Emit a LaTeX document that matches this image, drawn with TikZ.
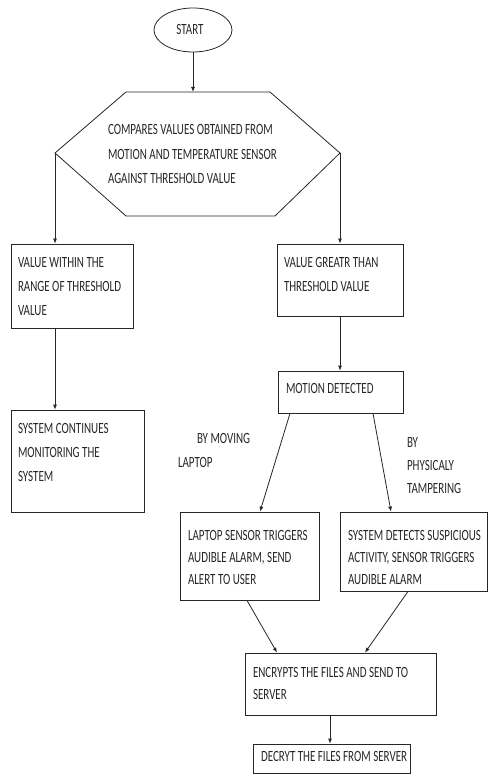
\documentclass[tikz,border=0pt]{standalone}
\usepackage{fontspec}
\setmainfont{Carlito}
\usepackage{graphicx}
\usetikzlibrary{arrows.meta,shapes.geometric,calc}
\newcommand{\stx}[2][17]{\scalebox{1}[1.42]{\fontsize{11}{#1}\selectfont\begin{tabular}[t]{@{}l@{}}#2\end{tabular}}}
\colorlet{ln}{black!85}
\tikzset{
  box/.style={draw=ln,line width=0.8pt,inner sep=0pt,rectangle},
  txt/.style={anchor=base west,inner sep=0pt,outer sep=0pt,text=black!85},
  arr/.style={draw=ln,line width=0.8pt,-{Latex[length=5pt,width=4pt]}},
}
\begin{document}
\begin{tikzpicture}[x=1pt,y=-1pt,line join=miter]
\useasboundingbox (0,0) rectangle (489,783);
% start
\node[draw=ln,ellipse,line width=0.8pt,minimum width=78pt,minimum height=44pt,inner sep=0pt] (start) at (193,30) {};
\node[txt,anchor=base] (tstart) at (190,35) {\stx{START}};
% hexagon
\coordinate (hT) at (193,92);
\coordinate (hW) at (55,153);
\coordinate (hE) at (340,153);
\draw[ln,line width=0.8pt] (126,92) -- (270,92) -- (hE) -- (275,216) -- (126,216) -- (hW) -- cycle;
\node[txt] (thex) at (108,135) {\stx{COMPARES VALUES OBTAINED FROM\\MOTION AND TEMPERATURE SENSOR\\AGAINST THRESHOLD VALUE}};
% boxes
\node[box,minimum width=122pt,minimum height=84pt] (b1) at (72,286) {};
\node[txt] (t1) at (18,267) {\stx{VALUE WITHIN THE\\RANGE OF THRESHOLD\\VALUE}};
\node[box,minimum width=126pt,minimum height=72pt] (b2) at (340,280) {};
\node[txt] (t2) at (284,267) {\stx{VALUE GREATR THAN\\THRESHOLD VALUE}};
\node[box,minimum width=133pt,minimum height=102pt] (b3) at (77.5,461) {};
\node[txt] (t3) at (18,433) {\stx{SYSTEM CONTINUES\\MONITORING THE\\SYSTEM}};
\node[box,minimum width=125pt,minimum height=42pt] (b4) at (340.5,392) {};
\node[txt] (t4) at (286,393) {\stx{MOTION DETECTED}};
\node[txt] (l1) at (178,443) {\stx{\hspace{19pt}BY MOVING\\LAPTOP}};
\node[txt] (l2) at (407,447) {\stx[16.5]{BY\\PHYSICALY\\TAMPERING}};
\node[box,minimum width=139pt,minimum height=88pt] (b5) at (249.5,556) {};
\node[txt] (t5) at (188,540) {\stx[15.5]{LAPTOP SENSOR TRIGGERS\\AUDIBLE ALARM, SEND\\ALERT TO USER}};
\node[box,minimum width=147pt,minimum height=79pt] (b6) at (413.5,551.5) {};
\node[txt] (t6) at (348,540) {\stx[15.5]{SYSTEM DETECTS SUSPICIOUS\\ACTIVITY, SENSOR TRIGGERS\\AUDIBLE ALARM}};
\node[box,minimum width=191pt,minimum height=62pt] (b7) at (340.5,684) {};
\node[txt] (t7) at (253,677) {\stx[16]{ENCRYPTS THE FILES AND SEND TO\\SERVER}};
\node[box,minimum width=157pt,minimum height=29pt] (b8) at (331.5,758.5) {};
\node[txt] (t8) at (261,761) {\stx{DECRYT THE FILES FROM SERVER}};
% connectors
\draw[arr] (start.south) -- (hT);
\draw[arr] (hW) -- (hW |- b1.north);
\draw[arr] (hE) -- (hE |- b2.north);
\draw[arr] ([xshift=-17pt]b1.south) -- ([xshift=-22.5pt]b3.north);
\draw[arr] (b2.south) -- ([xshift=-0.5pt]b4.north);
\draw[arr] ([xshift=-50.5pt]b4.south) -- ([xshift=10.5pt]b5.north);
\draw[arr] ([xshift=32.5pt]b4.south) -- ([xshift=-22.5pt]b6.north);
\draw[arr] ([xshift=-2.5pt]b5.south) -- ([xshift=-63.5pt]b7.north);
\draw[arr] ([xshift=-5.5pt]b6.south) -- ([xshift=24.5pt]b7.north);
\draw[arr] ([xshift=-10.5pt]b7.south) -- ([xshift=-1.5pt]b8.north);
\end{tikzpicture}
\end{document}
